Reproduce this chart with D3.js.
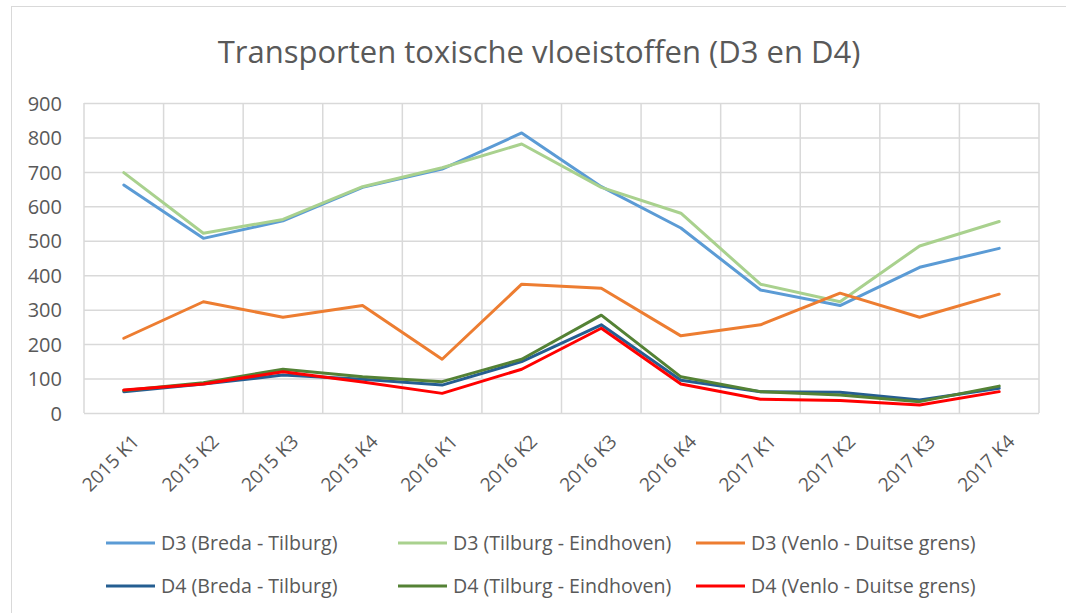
<!DOCTYPE html>
<html>
<head>
<meta charset="utf-8">
<script src="https://cdn.jsdelivr.net/npm/d3@7"></script>
<style>
  html, body { margin: 0; padding: 0; background: #fff; }
  text { font-family: "Open Sans", Lato, sans-serif; fill: #595959; }
</style>
</head>
<body>
<svg id="chart" width="1066" height="613"></svg>
<script>
const title = "Transporten toxische vloeistoffen (D3 en D4)";
const categories = ["2015 K1","2015 K2","2015 K3","2015 K4","2016 K1","2016 K2","2016 K3","2016 K4","2017 K1","2017 K2","2017 K3","2017 K4"];
const yTicks = [0,100,200,300,400,500,600,700,800,900];

const seriesNames = [
  "D3 (Breda - Tilburg)",
  "D3 (Tilburg - Eindhoven)",
  "D3 (Venlo - Duitse grens)",
  "D4 (Breda - Tilburg)",
  "D4 (Tilburg - Eindhoven)",
  "D4 (Venlo - Duitse grens)"
];
const seriesColors = ["#5B9BD5","#A9D18E","#ED7D31","#255E91","#548235","#FF0000"];

const d3BredaTilburg     = [662, 507, 558, 655, 708, 813, 657, 537, 357, 312, 423, 478];
const d3TilburgEindhoven = [698, 522, 562, 657, 712, 781, 655, 580, 374, 323, 485, 556];
const d3VenloDuitsegrens = [217, 323, 278, 312, 156, 374, 362, 224, 256, 348, 278, 345];
const d4BredaTilburg     = [62, 84, 110, 98, 81, 149, 256, 95, 62, 60, 38, 72];
const d4TilburgEindhoven = [65, 88, 127, 105, 91, 156, 284, 105, 62, 52, 33, 78];
const d4VenloDuitsegrens = [67, 84, 120, 90, 57, 127, 246, 84, 40, 36, 23, 62];

const seriesValues = [d3BredaTilburg, d3TilburgEindhoven, d3VenloDuitsegrens,
                      d4BredaTilburg, d4TilburgEindhoven, d4VenloDuitsegrens];

const svg = d3.select("#chart");
const W = 1066, H = 613;
const plot = {left: 84, right: 1039, top: 103, bottom: 413};

// outer chart border
svg.append("rect").attr("x", 11.5).attr("y", 6.5).attr("width", W).attr("height", H)
  .attr("fill", "none").attr("stroke", "#d9d9d9").attr("stroke-width", 1);

svg.append("text").attr("x", 539).attr("y", 63).attr("text-anchor", "middle")
  .style("font-size", "31px").text(title);

const x = d3.scaleBand().domain(categories).range([plot.left, plot.right]);
const y = d3.scaleLinear().domain([0, 900]).range([plot.bottom, plot.top]);

// horizontal gridlines
const gy = svg.append("g").attr("transform", `translate(${plot.left},0)`)
  .call(d3.axisLeft(y).tickValues(yTicks).tickSize(-(plot.right - plot.left)).tickPadding(22));
gy.select(".domain").remove();
gy.selectAll(".tick line").attr("stroke", "#d9d9d9").attr("stroke-width", 1.5);
gy.selectAll(".tick text").style("font-size", "20px").attr("fill", "#595959")
  .attr("dy", "0.36em");

// vertical gridlines at category boundaries
const edges = categories.map(c => x(c)).concat([x(categories[categories.length-1]) + x.bandwidth()]);
svg.append("g").selectAll("line").data(edges).join("line")
  .attr("x1", d => d).attr("x2", d => d).attr("y1", plot.top).attr("y2", plot.bottom)
  .attr("stroke", "#d9d9d9").attr("stroke-width", 1.5);

// x axis labels
const gx = svg.append("g").attr("transform", `translate(0,${plot.bottom})`)
  .call(d3.axisBottom(x).tickSize(0).tickPadding(0));
gx.select(".domain").remove();
gx.selectAll(".tick text")
  .style("font-size", "19px").attr("fill", "#595959")
  .attr("text-anchor", "end")
  .attr("transform", "translate(12,25) rotate(-45)")
  .attr("dy", "0.35em").attr("y", 0);

// lines
const line = d3.line().x((d, i) => x(categories[i]) + x.bandwidth() / 2).y(d => y(d));
svg.append("g").selectAll("path").data(seriesValues).join("path")
  .attr("d", d => line(d)).attr("fill", "none")
  .attr("stroke", (d, i) => seriesColors[i]).attr("stroke-width", 3)
  .attr("stroke-linejoin", "round").attr("stroke-linecap", "round");

// legend
const legendX = [106, 398, 696];
const legendY = [543, 586];
const lg = svg.append("g");
seriesNames.forEach((name, i) => {
  const col = i % 3, row = Math.floor(i / 3);
  const gx0 = legendX[col], gy0 = legendY[row];
  lg.append("line").attr("x1", gx0).attr("x2", gx0 + 49).attr("y1", gy0).attr("y2", gy0)
    .attr("stroke", seriesColors[i]).attr("stroke-width", 3);
  lg.append("text").attr("x", gx0 + 55).attr("y", gy0).attr("dy", "0.35em")
    .style("font-size", "19.6px").text(name);
});
</script>
</body>
</html>
